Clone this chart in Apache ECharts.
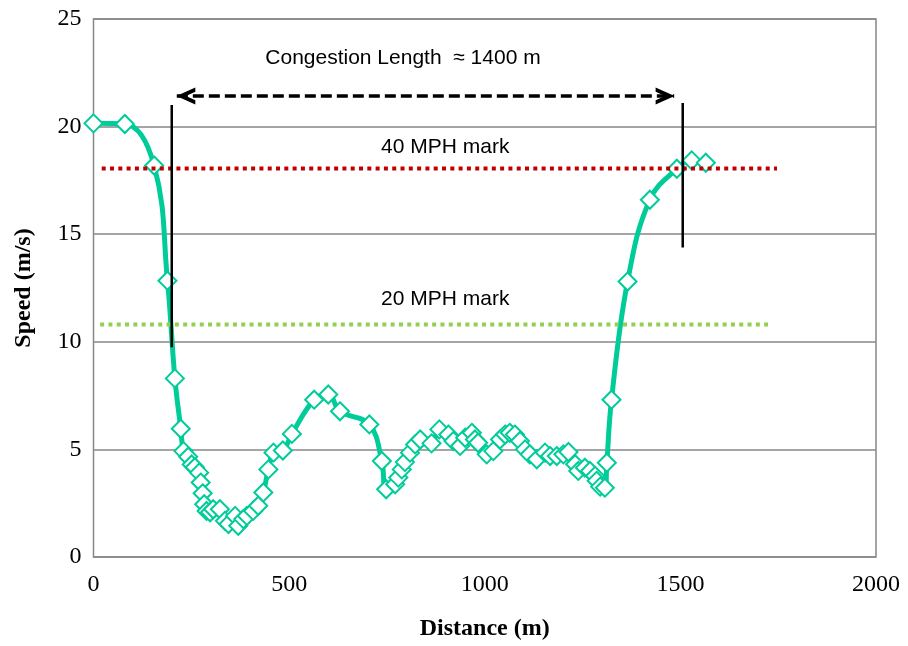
<!DOCTYPE html>
<html>
<head>
<meta charset="utf-8">
<script src="https://cdn.jsdelivr.net/npm/echarts@6/dist/echarts.min.js"></script>
<style>
html, body { margin: 0; padding: 0; background: #fff; }
#main { width: 908px; height: 646px; }
</style>
</head>
<body>
<div id="main"></div>
<script>
// measured speed profile (distance in m, speed in m/s)
var distance = [0, 80, 155, 189, 208, 223, 230, 242, 251, 259, 270, 274, 279, 283, 289, 298, 306, 323, 336, 345,
    362, 370, 383, 392, 408, 421, 434, 447, 460, 484, 507, 564, 600, 630, 705, 737, 748, 771, 779, 788,
    796, 809, 822, 835, 864, 884, 907, 920, 937, 950, 967, 975, 983, 1005, 1022, 1039, 1052, 1064, 1077, 1090,
    1103, 1115, 1133, 1154, 1167, 1184, 1201, 1214, 1231, 1239, 1256, 1269, 1282, 1286, 1295, 1307, 1312, 1324, 1365, 1422,
    1491, 1529, 1565];
var speed = [20.15, 20.12, 18.19, 12.84, 8.3, 5.96, 4.92, 4.66, 4.3, 4.17, 3.92, 3.46, 2.96, 2.45, 2.14, 2.08, 2.22, 2.22, 1.68, 1.53,
    1.91, 1.45, 1.76, 1.91, 2.14, 2.38, 3.0, 4.07, 4.85, 4.95, 5.72, 7.31, 7.55, 6.77, 6.16, 4.46, 3.15, 3.38, 3.69, 4.07,
    4.41, 4.85, 5.23, 5.46, 5.28, 5.93, 5.69, 5.39, 5.16, 5.54, 5.77, 5.46, 5.31, 4.77, 4.92, 5.46, 5.69, 5.77, 5.69, 5.39,
    5.0, 4.77, 4.54, 4.85, 4.69, 4.69, 4.77, 4.88, 4.31, 4.0, 4.15, 4.0, 3.77, 3.54, 3.27, 3.22, 4.38, 7.31, 12.8, 16.6,
    18.04, 18.43, 18.32];

// reference marks
var mph40Line = [[21, 18.05], [1747, 18.05]];
var mph20Line = [[17, 10.8], [1724, 10.8]];
var leftMark = [[200, 21.0], [200, 9.75]];
var rightMark = [[1506, 21.1], [1506, 14.38]];
var congestionArrow = [[213, 21.42], [1484, 21.42]];

var noteText = ['Congestion Length  \u2248 1400 m', '40 MPH mark', '20 MPH mark'];
var notePos = [[791, 23.2], [899, 19.06], [899, 11.97]];

var xTicks = [0, 500, 1000, 1500, 2000];
var yTicks = [0, 5, 10, 15, 20, 25];

var serif = 'Liberation Serif, Times New Roman, serif';
var sans = 'Liberation Sans, Arial, sans-serif';

var myChart = echarts.init(document.getElementById('main'));

var speedData = [];
for (var i = 0; i < distance.length; i++) {
    speedData.push([distance[i], speed[i]]);
}

var notes = [];
for (var j = 0; j < noteText.length; j++) {
    notes.push({ value: notePos[j], name: noteText[j] });
}

var leftHead = 'path://M18,0 L0,8 L18,16 L18,12 L9,8 L18,4 Z';
var rightHead = 'path://M0,0 L18,8 L0,16 L0,12 L9,8 L0,4 Z';

option = {
    animation: false,
    backgroundColor: '#fff',
    grid: {
        left: 93.5,
        right: 32,
        top: 19,
        bottom: 88,
        show: true,
        borderColor: '#878787',
        borderWidth: 1.5
    },
    xAxis: {
        type: 'value',
        min: xTicks[0],
        max: xTicks[xTicks.length - 1],
        interval: 500,
        name: 'Distance (m)',
        nameLocation: 'middle',
        nameGap: 60,
        nameTextStyle: { fontFamily: serif, fontWeight: 'bold', fontSize: 24, color: '#000' },
        axisLine: { show: false },
        axisTick: { show: false },
        splitLine: { show: false },
        axisLabel: {
            fontFamily: serif, fontSize: 24, color: '#000', margin: 16,
            formatter: function (v) { return String(v); }
        }
    },
    yAxis: {
        type: 'value',
        min: yTicks[0],
        max: yTicks[yTicks.length - 1],
        interval: 5,
        name: 'Speed (m/s)',
        nameLocation: 'middle',
        nameGap: 58,
        nameTextStyle: { fontFamily: serif, fontWeight: 'bold', fontSize: 24, color: '#000' },
        axisLine: { show: false },
        axisTick: { show: false },
        splitLine: { lineStyle: { color: '#878787', width: 1.5 } },
        axisLabel: {
            fontFamily: serif, fontSize: 24, color: '#000', margin: 12,
            formatter: function (v) { return String(v); }
        }
    },
    series: [{
        name: 'speed',
        type: 'line',
        data: speedData,
        smooth: 0.4,
        symbol: 'diamond',
        symbolSize: 18,
        showAllSymbol: true,
        lineStyle: { color: '#00CC99', width: 5 },
        itemStyle: { color: '#fff', borderColor: '#00CC99', borderWidth: 2 },
        z: 2
    }, {
        name: '40 MPH',
        type: 'line',
        data: mph40Line,
        symbol: 'none',
        lineStyle: { color: '#C00000', width: 4, type: [4, 4.3] },
        z: 5
    }, {
        name: '20 MPH',
        type: 'line',
        data: mph20Line,
        symbol: 'none',
        lineStyle: { color: '#92D050', width: 4, type: [4, 4.3] },
        z: 5
    }, {
        name: 'start',
        type: 'line',
        data: leftMark,
        symbol: 'none',
        lineStyle: { color: '#000', width: 2.5 },
        z: 6
    }, {
        name: 'end',
        type: 'line',
        data: rightMark,
        symbol: 'none',
        lineStyle: { color: '#000', width: 2.5 },
        z: 6
    }, {
        name: 'congestion',
        type: 'line',
        data: [
            { value: congestionArrow[0], symbol: leftHead, symbolOffset: [9, 0] },
            { value: congestionArrow[1], symbol: rightHead, symbolOffset: [-9, 0] }
        ],
        symbolSize: [19, 17],
        showAllSymbol: true,
        lineStyle: { color: '#000', width: 3.5, type: [11, 5] },
        itemStyle: { color: '#000' },
        z: 6
    }, {
        name: 'notes',
        type: 'scatter',
        data: notes,
        symbol: 'rect',
        symbolSize: 0,
        itemStyle: { color: '#000', opacity: 1 },
        label: {
            show: true,
            position: 'inside',
            formatter: '{b}',
            fontFamily: sans,
            fontSize: 21,
            color: '#000000',
            opacity: 1,
            textBorderWidth: 0
        },
        z: 7
    }]
};

myChart.setOption(option);
</script>
</body>
</html>
